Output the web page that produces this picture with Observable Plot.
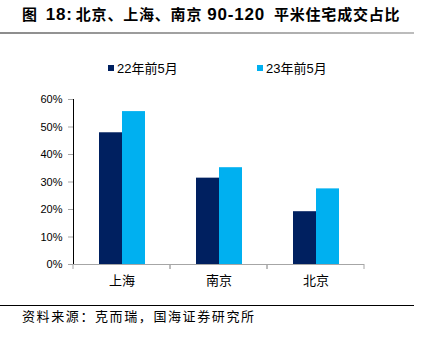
<!DOCTYPE html>
<html>
<head>
<meta charset="utf-8">
<script src="https://cdn.jsdelivr.net/npm/d3@7"></script>
<script src="https://cdn.jsdelivr.net/npm/@observablehq/plot@0.6"></script>
<style>
  html, body { margin: 0; padding: 0; background: #fff; }
  #wrap { position: relative; width: 423px; height: 338px; overflow: hidden; font-family: "Liberation Sans", Arial, "Noto Sans CJK SC", sans-serif; }
  #title { position: absolute; left: 22px; top: 5px; font-size: 15px; letter-spacing: 0.8px; font-weight: bold; color: #000; white-space: nowrap; font-family: "Liberation Sans", Arial, "Noto Sans CJK SC", sans-serif; line-height: 20px; }
  #title .lat { font-size: 17px; }
  #tline { position: absolute; left: 0; top: 32px; width: 414px; height: 2px; background: linear-gradient(to right, #8c8c8c, #bdbdbd); }
  #legend { position: absolute; left: 0; top: 58px; width: 423px; height: 20px; font-size: 13px; color: #000; }
  .item { position: absolute; top: 0; white-space: nowrap; display: flex; align-items: center; }
  .sw { display: inline-block; width: 6px; height: 6px; margin-right: 3px; }
  #chart { position: absolute; left: 0; top: 90px; }
  #bline { position: absolute; left: 0; top: 305px; width: 414px; height: 1px; background: #000; }
  #source { position: absolute; left: 22px; top: 306px; font-size: 13px; letter-spacing: 1.6px; color: #000; white-space: nowrap; font-family: "Noto Sans CJK SC", sans-serif; }
</style>
</head>
<body>
<div id="wrap">
  <div id="title">图<span class="lat" style="margin-left:8px">18:</span><span style="margin-left:3px">北京、上海、南京</span><span class="lat" style="margin-left:5px">90-120</span><span style="margin-left:9px">平米住宅成交占比</span></div>
  <div id="tline"></div>
  <div id="legend"></div>
  <div id="chart"></div>
  <div id="bline"></div>
  <div id="source">资料来源：克而瑞，国海证券研究所</div>
</div>
<script>
const cities = ["上海", "南京", "北京"];
const series = ["22年前5月", "23年前5月"];
const values22 = [47.9, 31.4, 19.2];
const values23 = [55.6, 35.2, 27.5];
const colors = ["#002060", "#00B0F0"];
const yTicks = [0, 10, 20, 30, 40, 50, 60];

const rows = [];
cities.forEach((c, i) => {
  rows.push({city: c, series: series[0], value: values22[i]});
  rows.push({city: c, series: series[1], value: values23[i]});
});

// legend
const legend = document.getElementById("legend");
const legendLeft = [108, 257];
series.forEach((s, i) => {
  const it = document.createElement("div");
  it.className = "item";
  it.style.left = legendLeft[i] + "px";
  it.innerHTML = `<span class="sw" style="background:${colors[i]}"></span><span>${s}</span>`;
  legend.appendChild(it);
});

const axisColor = "#a6a6a6";

function boundaryTicks(index, scales, values, dimensions) {
  const x = scales.x, y = scales.y;
  const [x0, x1] = x.range();
  const y0 = y(0);
  const g = d3.create("svg:g");
  for (const xx of [x0, x1]) {
    g.append("line").attr("x1", xx).attr("x2", xx).attr("y1", y0).attr("y2", y0 + 5)
      .attr("stroke", axisColor).attr("stroke-width", 1);
  }
  return g.node();
}

const chart = Plot.plot({
  width: 423,
  height: 210,
  marginTop: 9,
  marginBottom: 36,
  marginLeft: 72,
  marginRight: 58,
  style: {fontFamily: "Liberation Sans, Arial, sans-serif", fontSize: "11px", color: "#000", background: "transparent"},
  fx: {domain: cities, paddingInner: 0, paddingOuter: 0, label: null, axis: "bottom", tickSize: 0, tickPadding: 11},
  x: {domain: series, paddingInner: 0, paddingOuter: 1.096, axis: null},
  y: {domain: [0, 60], ticks: yTicks, tickFormat: d => d + "%", tickSize: 5, tickPadding: 6, label: null, line: true},
  color: {domain: series, range: colors},
  marks: [
    Plot.barY(rows, {fx: "city", x: "series", y: "value", fill: "series"}),
    Plot.ruleY([0], {stroke: axisColor}),
    boundaryTicks
  ]
});
chart.querySelectorAll("[aria-label='fx-axis tick label'] text, [aria-label='fx-axis tick label']").forEach(el => {
  el.setAttribute("font-size", "13px");
  el.style.fontFamily = "'Noto Sans CJK SC', sans-serif";
});
chart.querySelectorAll("[aria-label='y-axis tick'], [aria-label='y-axis line'], [aria-label='y-axis tick'] path").forEach(el => {
  el.setAttribute("stroke", axisColor);
});
chart.querySelectorAll("[aria-label='y-axis tick label']").forEach(el => {
  el.setAttribute("font-size", "11px");
});
document.getElementById("chart").appendChild(chart);
</script>
</body>
</html>
